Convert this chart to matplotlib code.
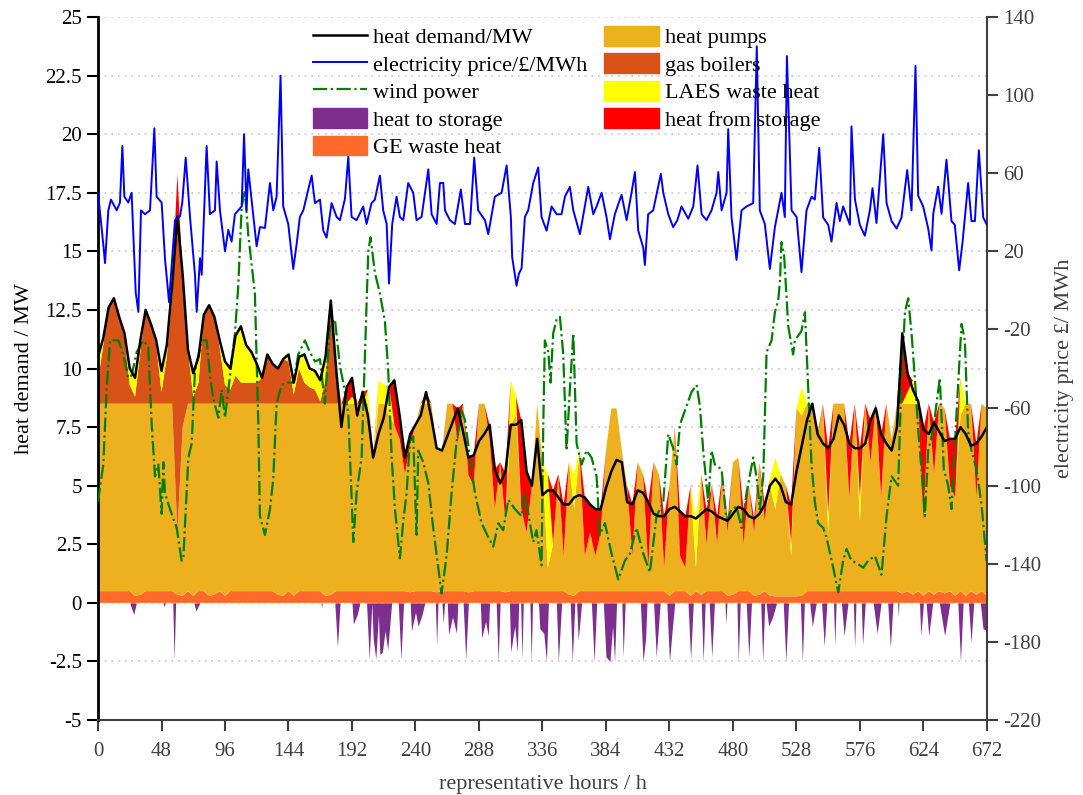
import matplotlib
matplotlib.use('Agg')
import matplotlib.pyplot as plt
from matplotlib.patches import Patch
from matplotlib.lines import Line2D
from matplotlib.ticker import FuncFormatter
import numpy as np

plt.rcParams['font.family'] = ['Liberation Serif', 'DejaVu Serif']
plt.rcParams['axes.unicode_minus'] = False

# representative hours on a 4-hour grid (used for the stacked heat supply)
hours = np.arange(0, 673, 4)

# heat demand / MW
demand = [10.5, 11.3, 12.6, 13.0, 12.2, 11.5, 10.0, 9.6, 11.2, 12.5, 11.9, 11.2, 9.9, 11.0,
          13.5, 16.5, 14.0, 10.8, 9.8, 10.5, 12.3, 12.7, 12.2, 11.2, 10.3, 10.0, 11.4, 11.8,
          11.0, 10.7, 10.2, 9.6, 10.6, 10.2, 10.0, 10.4, 10.6, 9.4, 10.5, 10.6, 10.0, 9.9,
          9.5, 10.5, 12.9, 10.0, 7.5, 9.2, 9.6, 8.0, 9.0, 8.0, 6.2, 7.2, 7.9, 9.2,
          9.5, 8.0, 6.2, 7.2, 7.6, 8.0, 9.0, 7.9, 6.6, 6.5, 7.1, 7.7, 8.3, 7.3,
          6.2, 6.3, 6.9, 7.2, 7.6, 5.7, 5.1, 5.6, 7.6, 7.6, 7.8, 5.6, 5.0, 7.0,
          4.6, 4.8, 4.8, 4.5, 4.2, 4.2, 4.5, 4.6, 4.5, 4.2, 4.0, 4.0, 4.9, 5.6, 6.1, 6.0,
          4.3, 4.2, 4.8, 4.7, 4.3, 3.8, 3.7, 3.7, 4.0, 4.1,
          3.9, 3.7, 3.7, 3.6, 3.8, 4.0, 3.9, 3.7, 3.6, 3.5, 3.8, 4.1, 4.0, 3.7,
          3.6, 3.8, 4.2, 5.0, 5.3, 5.0, 4.3, 4.2, 5.6, 6.7, 7.8, 8.5, 7.2, 6.8,
          6.6, 7.0, 8.0, 7.6, 6.8, 6.6, 6.6, 6.8, 7.8, 8.3, 7.2, 6.8, 6.5, 7.5, 11.5, 9.8,
          9.1, 8.6, 7.4, 7.2, 7.7, 7.3, 6.9, 7.0, 7.0, 7.5, 7.2, 6.7, 6.8, 7.1, 7.5]

# GE waste heat / MW
ge_heat = [0.5, 0.5, 0.5, 0.5, 0.5, 0.5, 0.5, 0.3, 0.35, 0.5, 0.5, 0.5, 0.5, 0.5,
           0.5, 0.35, 0.3, 0.5, 0.3, 0.5, 0.5, 0.3, 0.35, 0.5, 0.3, 0.5, 0.5, 0.5,
           0.5, 0.5, 0.5, 0.5, 0.5, 0.5, 0.35, 0.3, 0.5, 0.3, 0.5, 0.5, 0.5, 0.5,
           0.5, 0.3, 0.35, 0.5, 0.5, 0.5, 0.5, 0.5, 0.5, 0.5, 0.5, 0.5, 0.5, 0.5,
           0.5, 0.5, 0.5, 0.45, 0.5, 0.5, 0.5, 0.5, 0.45, 0.5, 0.5, 0.5, 0.5, 0.5,
           0.45, 0.5, 0.5, 0.5, 0.5, 0.5, 0.5, 0.45, 0.5, 0.5, 0.5, 0.5, 0.5, 0.5,
           0.5, 0.5, 0.5, 0.5, 0.5, 0.35, 0.3, 0.5, 0.5, 0.5, 0.5, 0.5, 0.5, 0.5, 0.5, 0.5,
           0.5, 0.5, 0.5, 0.5, 0.5, 0.5, 0.5, 0.5, 0.3, 0.5,
           0.5, 0.5, 0.3, 0.5, 0.35, 0.5, 0.5, 0.5, 0.5, 0.3, 0.35, 0.5, 0.5, 0.5,
           0.3, 0.35, 0.5, 0.3, 0.28, 0.28, 0.28, 0.28, 0.28, 0.3, 0.5, 0.5, 0.5, 0.5,
           0.5, 0.5, 0.5, 0.5, 0.5, 0.5, 0.5, 0.5, 0.5, 0.5, 0.5, 0.5, 0.5, 0.5, 0.4, 0.5,
           0.35, 0.5, 0.3, 0.5, 0.35, 0.5, 0.4, 0.5, 0.3, 0.5, 0.3, 0.5, 0.35, 0.5, 0.3]

# heat pumps / MW
heat_pumps = [8.0, 8.0, 8.0, 8.0, 8.0, 8.0, 8.0, 8.2, 8.15, 8.0, 8.0, 8.0, 8.0, 8.0,
              8.0, 2.65, 7.2, 8.0, 8.2, 8.0, 8.0, 8.2, 8.15, 8.0, 8.2, 8.0, 8.0, 8.0,
              8.0, 8.0, 8.0, 8.0, 8.0, 8.0, 8.15, 8.2, 8.0, 8.2, 8.0, 8.0, 8.0, 8.0,
              8.0, 8.2, 8.15, 8.0, 8.0, 8.0, 8.0, 8.0, 8.0, 8.0, 5.5, 8.0, 8.0, 7.5,
              7.1, 6.5, 5.0, 6.3, 7.1, 8.0, 8.0, 8.0, 6.1, 6.0, 8.0, 8.0, 6.3, 8.0,
              5.0, 4.5, 8.0, 8.0, 6.5, 3.5, 5.5, 3.0, 7.1, 7.5, 3.5, 2.5, 4.5, 8.0,
              5.5, 1.0, 2.0, 5.0, 1.5, 5.65, 3.7, 6.0, 1.5, 2.5, 1.5, 2.5, 6.0, 7.8, 7.8, 6.0,
              4.5, 1.5, 5.5, 5.0, 1.0, 5.5, 5.0, 1.0, 4.7, 7.0,
              1.5, 1.0, 4.7, 1.0, 5.15, 2.0, 4.5, 2.0, 5.0, 2.7, 5.65, 5.7, 2.0, 4.5,
              2.7, 5.65, 3.0, 4.7, 3.72, 5.22, 4.72, 1.72, 8.02, 7.7, 8.0, 8.0, 6.5, 8.0,
              2.5, 8.0, 8.0, 8.0, 4.0, 8.0, 3.0, 8.0, 5.5, 8.0, 4.0, 8.0, 6.5, 8.0, 8.1, 8.0,
              8.15, 8.0, 3.2, 8.0, 5.15, 8.0, 7.9, 4.5, 4.2, 7.5, 8.2, 8.0, 4.15, 8.0, 8.0]

# gas boilers / MW
gas_boilers = [1.0, 2.5, 4.1, 4.5, 3.7, 2.8, 0.8, 0.3, 2.2, 4.0, 3.4, 2.5, 0.5, 2.0,
               4.5, 13.5, 6.5, 2.3, 0.3, 0.9, 3.8, 4.2, 3.7, 2.4, 0.8, 0.6, 1.2, 0.9,
               0.9, 0.9, 0.9, 1.1, 2.1, 1.7, 1.5, 1.9, 1.8, 0.4, 1.5, 0.9, 0.7, 0.6,
               0.1, 1.0, 4.4, 1.5, 0, 0, 0, 0, 0, 0, 0, 0, 0, 0,
               0, 0, 0, 0, 0, 0, 0, 0, 0, 0, 0, 0, 0, 0,
               0, 0, 0, 0, 0, 0, 0, 0, 0, 0, 0, 0, 0, 0,
               0, 0, 0, 0, 0, 0, 0, 0, 0, 0, 0, 0, 0, 0, 0, 0,
               0, 0, 0, 0, 0, 0, 0, 0, 0, 0,
               0, 0, 0, 0, 0, 0, 0, 0, 0, 0, 0, 0, 0, 0,
               0, 0, 0, 0, 0, 0, 0, 0, 0, 0, 0, 0, 0, 0,
               0, 0, 0, 0, 0, 0, 0, 0, 0, 0, 0, 0, 0, 0, 0, 0,
               0, 0, 0, 0, 0, 0, 0, 0, 0, 0, 0, 0, 0, 0, 0]

# LAES waste heat / MW
laes_heat = [1.0, 0.3, 0, 0, 0, 0.2, 0.7, 0.8, 0.5, 0, 0, 0.2, 0.9, 0.5,
             0.5, 0, 0, 0, 1.0, 1.1, 0, 0, 0, 0.3, 1.0, 0.9, 1.7, 2.4,
             1.6, 1.3, 0.8, 0, 0, 0, 0, 0, 0.3, 0.5, 0.5, 1.2, 0.8, 0.8,
             0.9, 1.0, 0, 0, 0, 0, 0.3, 0, 0, 0.6, 0, 1.0, 0.8, 1.3,
             0, 0, 0, 0, 0, 0, 0.2, 0, 0, 0, 0, 0, 0, 0,
             0, 0, 0, 0, 0, 0, 0, 0, 1.9, 0.8, 0, 0, 0, 0,
             0, 4.0, 0, 0, 0, 0, 1.5, 0, 0, 0, 0, 0, 0, 0, 0, 0,
             0, 0, 0, 0, 0, 0, 0, 0, 0, 0,
             0, 0, 0, 2.1, 0, 0, 0, 0, 0, 0, 0, 0, 0, 0,
             0, 0, 0, 0.3, 2.2, 0, 0, 0.5, 0, 1.2, 0, 0, 0, 0,
             0.8, 0, 0, 0, 0, 0, 1.0, 0, 0, 0, 0, 0, 0, 0, 0, 0.5,
             1.0, 0, 0, 0, 0, 0, 0, 0, 0, 1.6, 0, 0, 0, 0, 0]

# heat from storage / MW
heat_from_storage = [0, 0, 0, 0, 0, 0, 0, 0, 0, 0, 0, 0, 0, 0,
                     0, 1.8, 0, 0, 0, 0, 0, 0, 0, 0, 0, 0, 0, 0,
                     0, 0, 0, 0, 0, 0, 0, 0, 0, 0, 0, 0, 0, 0,
                     0, 0, 0, 0, 0, 0.7, 0.8, 0, 0.5, 0, 0.2, 0, 0, 0,
                     1.9, 1.0, 0.7, 0.4, 0, 0, 0.3, 0, 0, 0, 0, 0, 1.5, 0,
                     0.7, 1.3, 0, 0, 0.6, 1.7, 0, 2.1, 0, 0, 3.8, 2.6, 0, 0,
                     0, 0, 2.3, 0, 2.2, 0, 0, 0, 2.5, 1.2, 2.0, 1.0, 0, 0, 0, 0,
                     0, 2.2, 0, 0, 2.8, 0, 0, 2.2, 0, 0,
                     1.9, 2.2, 0, 0, 0, 1.5, 0, 1.2, 0, 0.5, 0, 0, 1.5, 0,
                     0.6, 0, 0.7, 0, 0, 0, 0, 1.7, 0, 0, 0, 0, 0.2, 0,
                     2.8, 0, 0, 0, 2.3, 0, 2.1, 0, 1.8, 0, 2.7, 0, 0, 0, 3.0, 0.8,
                     0, 0.1, 3.9, 0, 2.2, 0, 0, 2.0, 2.5, 0, 0, 0, 2.3, 0, 0]

# heat to storage / MW (negative), own hour breakpoints
store_h = [0, 24, 27, 29, 49, 50, 51, 56.5, 57.5, 58.7, 72.5, 74, 77, 168.5, 169, 169.5,
           179, 181, 183, 192, 193, 196, 198, 203, 205, 207, 208, 210, 212, 213, 215, 217,
           219, 222, 227, 229, 231, 236, 237, 240, 242, 245, 247, 255, 256, 257, 260, 261,
           262, 264, 265, 268, 271, 272, 276, 278, 280, 289, 290, 293, 295, 296, 301, 302.5,
           304, 311, 312, 315, 317, 318, 319.5, 320.5, 321.5, 326.5, 327.5, 328.5, 333, 334,
           337, 339, 340.5, 346.5, 348, 350.5, 357, 358.5, 360.5, 361.8, 363, 365.6, 373, 375,
           377, 382, 384, 387, 389, 390.5, 392, 396, 397, 398.5, 410, 412, 414, 415, 420, 422,
           425, 430, 432, 434, 436, 446, 448, 450, 456, 457.5, 459, 462, 464, 466, 474, 474.5,
           475.5, 483, 484, 485.5, 490, 492, 494, 501, 502.5, 504, 505, 507, 510, 513, 518, 520,
           522, 531, 532.5, 534, 538, 540, 543, 547, 549, 551, 556, 557, 558, 562, 564, 567,
           571, 572, 573, 577, 578, 580, 586, 589, 592, 597, 599, 601, 604.5, 605, 605.5, 621,
           622, 624, 626, 628, 631, 636, 640, 644, 650, 652, 654, 658, 660, 662, 667, 669, 672]
store_v = [0, 0, -0.5, 0, 0, -0.15, 0, 0, -2.4, 0, 0, -0.35, 0, 0, -0.2, 0,
           0, -1.9, 0, 0, -0.9, -0.5, 0, 0, -2.4, 0, -1.5, -2.4, -0.5, -2.2, -2.1, -1.2,
           -2.0, 0, 0, -2.4, 0, 0, -1.2, -0.4, -1.0, -0.5, 0, 0, -1.8, 0, 0, -0.85,
           0, 0, -1.35, -0.6, -1.3, 0, 0, -2.4, 0, 0, -1.5, -0.8, -1.4, 0, 0, -2.5,
           0, 0, -2.1, -1.0, -2.1, 0, 0, -2.4, 0, 0, -2.5, 0, 0, -1.1,
           -1.3, -2.5, 0, 0, -2.5, 0, 0, -2.5, 0, 0, -1.6, 0, 0, -2.5,
           0, 0, -2.3, -2.5, -1.0, -2.5, 0, 0, -2.3, 0, 0, -2.5, -1.5, 0, 0, -2.3,
           0, 0, -2.5, -1.2, 0, 0, -2.4, 0, 0, -2.5, 0, 0, -2.3, 0, 0, -0.9,
           0, 0, -2.5, 0, 0, -2.3, 0, 0, -2.5, 0, 0, -1.0, -0.6, 0, 0, -2.5,
           0, 0, -2.5, 0, 0, -1.0, 0, 0, -1.85, 0, 0, -1.8, 0, 0, -1.4, 0,
           0, -1.9, 0, 0, -1.8, 0, 0, -1.3, 0, 0, -1.9, 0, 0, -0.6, 0, 0,
           -1.4, 0, 0, -1.4, 0, 0, -1.4, 0, 0, -2.5, 0, 0, -1.7, 0, 0, -1.1, -1.2]

# electricity price / GBP/MWh (right axis)
price_h = [0, 4.0, 5.3, 7.8, 9.8, 14.1, 16.6, 18.4, 19.9, 22.9, 25.4, 28.5, 30.5, 32.5,
           35.5, 39.3, 42.6, 44.3, 48.1, 50.6, 53.7, 58.2, 62, 63.7, 66.3, 69.5, 73.3, 74.6,
           77.1, 78.4, 82.1, 84.6, 88.4, 89.7, 92.2, 96, 98.5, 101, 103.5, 108.6, 110.4,
           112.3, 113.6, 116.1, 119.9, 122.4, 126.2, 130, 132.5, 135, 138, 140, 143.8,
           147.6, 150.1, 152.6, 155.2, 161.5, 164, 167.8, 170.3, 172.8, 176.6, 180.4, 182.9,
           186.7, 189.2, 191.7, 195.5, 200.5, 203, 206.8, 209.3, 213.1, 215.6, 218.2, 220,
           222.4, 225.7, 228.2, 230.8, 234.5, 238.3, 240.8, 244.6, 249.7, 252.2, 256, 258.5,
           261, 262.3, 266, 269.8, 274.3, 277.4, 281.2, 284.4, 287.4, 292.5, 295, 300, 305.1,
           308.9, 312.1, 313.1, 316.4, 318.2, 320.2, 322.7, 325.2, 329, 332.8, 335.3, 339.1,
           342.9, 346.7, 350.4, 353, 356.7, 359.3, 364.3, 370.6, 374.4, 376.9, 380.7, 384.4,
           387, 390.7, 395.8, 399.6, 403.3, 405.9, 408.4, 412.2, 413.4, 415.9, 419.7, 425.5,
           427.3, 431.1, 434.8, 438, 441.1, 446.2, 450, 453.2, 456.3, 460, 463.8, 467.6,
           468.9, 471.4, 475.2, 476.4, 478.9, 482.7, 486.5, 490.3, 495.3, 498, 500.3, 504.1,
           507.9, 511.7, 516.7, 519.2, 520.8, 524.3, 528.1, 531.8, 535.6, 539.4, 541.9, 545.2,
           548.2, 552, 554.5, 558.3, 560.8, 563.3, 568.4, 569.6, 572.2, 575.9, 579.7, 583.5,
           585.5, 588.5, 593.6, 596.1, 599.9, 603.7, 607.4, 611.7, 615, 618, 620, 623.8,
           627.6, 630.1, 631.4, 635.1, 637.7, 641.4, 645.2, 647.7, 651, 653.5, 657.8, 660.3,
           662.9, 665.9, 669.2, 672]
price_v = [50, 23.5, 14, 41, 46.5, 41, 45, 74, 48, 45, 50, -1, -11, 41,
           39, 41, 83, 48, 45, 16.5, -6, 36, 38, 45, 68, 38, 8, -11,
           16.5, 8, 74, 39, 41, 66, 41, 20, 31, 25, 39, 43, 80,
           41, 62, 46.5, 22.6, 32.4, 32, 55, 41, 48, 110, 43, 34,
           11, 23.5, 37.6, 41, 58.8, 44.7, 46.5, 30.6, 27, 44.7, 37.6, 36,
           47, 68.5, 37.6, 36, 43, 34, 44.7, 46.5, 58.8, 41, 34, 3.5,
           34, 48, 37.6, 36, 55, 50, 36, 37.6, 62, 39, 34, 55,
           55, 41, 36, 34, 51.7, 34, 34, 68, 41, 36, 28.8, 48, 50,
           64, 37.6, 17, 2.4, 8.6, 11.3, 37.6, 41, 55, 63, 37.6, 30.6,
           43, 39, 39, 48, 53, 41, 28.8, 53, 39, 43, 50, 37.6,
           26.2, 39, 49, 36, 50, 60.6, 30.6, 21.8, 13, 39, 41, 59.7,
           50, 39, 32.4, 36, 43, 36.7, 43, 64, 39, 36, 41, 50,
           60.6, 41, 50, 82.6, 37.6, 15.6, 41, 43, 44.7, 125, 41, 34,
           11, 32.4, 50, 37.6, 120, 41, 37.6, 9.4, 41, 48, 46.5, 73,
           37.3, 33.6, 25, 44.8, 35.5, 43, 33.6, 84, 46.6, 33.6, 28, 41,
           52.3, 34.5, 80, 44.8, 35.5, 31.7, 37.3, 61.6, 41, 115, 48.5, 43,
           31.7, 20.5, 39.2, 53.2, 39.2, 67, 35.5, 33.6, 10.3, 24.3, 55, 35.5,
           35.5, 71.8, 37.3, 33.6]

# wind power (left axis scale)
wind_h = [0, 4, 6.5, 9.1, 15.4, 19.1, 22.9, 25.4, 29.2, 34.3, 38, 40.6, 43.1, 45.6, 48.1,
          49.4, 50.6, 54.4, 59.5, 63.2, 64.5, 68.3, 70.8, 73.3, 78.4, 82.1, 84.6, 87.2, 91,
          93.5, 96, 99.8, 103.5, 106, 108.6, 111, 113.6, 118.6, 121.2, 122.4, 126.2, 130,
          132.5, 135, 138.8, 143.8, 147.6, 151.4, 156.4, 160.2, 164, 167.8, 171.5, 175.3,
          179.1, 182.9, 185.4, 189.2, 193, 195.5, 199.3, 201.8, 204.3, 206, 209.3, 213.1,
          216.9, 219.4, 222, 224.5, 228.2, 230.8, 233.3, 235.8, 238.3, 240.8, 242.1, 245.9,
          249.7, 253.4, 257.2, 259.7, 263.5, 267.3, 271.1, 274.9, 277.4, 281.2, 284.9, 290,
          295, 298.8, 302.6, 306.3, 310.1, 315.2, 320.2, 322.7, 326.5, 329, 331.5, 335.3,
          336.6, 337.8, 340.4, 342.1, 344.1, 346.7, 349.2, 351.7, 354.2, 356.7, 359.3, 361.8,
          365.6, 369.3, 373.1, 376.9, 379.4, 383.2, 388.2, 393.3, 398.3, 402.1, 407.1, 412.2,
          417.2, 422.2, 427.3, 431.1, 434.8, 437.4, 439.9, 443.7, 448.7, 452.5, 455, 457.5,
          461.3, 463.8, 466.3, 471.4, 475.2, 478.9, 482.7, 486.5, 490.3, 495.3, 497.8, 500.3,
          502.9, 505.4, 509.2, 511.7, 514.2, 515.5, 516.7, 518.7, 521.8, 525.5, 526.8, 531.8,
          534.4, 536.9, 539.4, 541.9, 544.4, 548.2, 550.7, 555.8, 559.6, 563.3, 565.9, 569.6,
          573.4, 578.5, 582.2, 587.3, 592.3, 596.1, 599.9, 604.9, 607.4, 610, 612.5, 615,
          617.5, 620, 622.5, 625.1, 627.6, 631.4, 636.4, 639.4, 642.7, 645.2, 649, 652.8,
          655.3, 657.8, 660.3, 664.1, 667.9, 671.7]
wind_v = [4.3, 5.9, 9.1, 11.2, 11.2, 10.6, 9.6, 9.7, 10.7, 11.2, 10.9, 7.6, 5.4, 5.9, 3.8,
          6.0, 4.7, 4.0, 3.2, 1.8, 1.9, 6.2, 6.8, 9.9, 11.2, 11.2, 9.7, 8.7, 7.9,
          9.1, 7.9, 9.7, 11.5, 13.5, 16.9, 17.6, 15.7, 13.2, 7.6, 3.7, 2.9, 4.0,
          5.3, 8.5, 9.3, 9.4, 9.4, 10.6, 11.2, 10.7, 10.3, 10.4, 8.5, 11.8,
          12.1, 10.1, 9.4, 8.1, 2.6, 4.7, 6.2, 10.6, 15.0, 15.6, 14.1, 13.2,
          12.0, 9.9, 6.2, 4.0, 1.9, 3.5, 4.7, 6.9, 7.1, 2.9, 6.5, 6.0,
          5.1, 3.2, 1.5, 0.4, 2.0, 4.7, 6.9, 8.2, 7.8, 6.2, 4.7, 3.4,
          2.8, 2.4, 3.4, 3.1, 4.4, 4.0, 3.7, 4.7, 3.4, 2.6, 3.1, 1.6,
          7.6, 11.2, 10.7, 9.4, 11.5, 12.1, 12.2, 10.6, 6.5, 9.1, 11.5, 6.8,
          5.9, 6.5, 6.2, 5.4, 2.9, 3.4, 2.1, 1.0, 1.8, 2.1, 3.2, 2.1,
          1.3, 3.7, 4.3, 7.2, 6.6, 5.9, 7.6, 8.2, 9.0, 9.3, 8.4, 6.5,
          4.3, 6.5, 5.9, 5.7, 3.5, 4.0, 4.1, 3.2, 4.7, 6.2, 5.4, 4.0,
          5.4, 10.7, 11.2, 12.4, 12.9, 13.7, 15.4, 14.8, 11.8, 10.6, 11.2, 11.6,
          12.4, 9.1, 5.9, 4.3, 3.4, 3.2, 2.8, 1.5, 0.45, 1.8, 2.3, 1.8,
          1.7, 1.5, 1.8, 2.0, 1.2, 3.7, 5.4, 5.0, 9.6, 12.4, 13.0, 11.5,
          9.6, 7.4, 5.7, 3.7, 6.5, 7.4, 9.6, 5.7, 5.0, 4.0, 8.1, 11.9,
          11.2, 7.3, 6.5, 5.7, 4.2, 1.8]

left_ticks = [25, 22.5, 20, 17.5, 15, 12.5, 10, 7.5, 5, 2.5, 0, -2.5, -5]
right_ticks = [140, 100, 60, 20, -20, -60, -100, -140, -180, -220]
x_ticks = [0, 48, 96, 144, 192, 240, 288, 336, 384, 432, 480, 528, 576, 624, 672]

c_hp = '#EDB120'
c_gb = '#D95319'
c_laes = '#FFFF00'
c_sout = '#FF0000'
c_sin = '#7E2F8E'
c_ge = '#FF6A2A'
grey = '#404040'

fig = plt.figure(figsize=(10.83, 7.95), dpi=100)
ax = fig.add_axes([0.0905, 0.0943, 0.8208, 0.8843])

# stacked heat supply
ax.stackplot(hours, ge_heat, heat_pumps, gas_boilers, laes_heat, heat_from_storage,
             colors=[c_ge, c_hp, c_gb, c_laes, c_sout], linewidth=0, zorder=2)
ax.fill_between(store_h, store_v, 0, color=c_sin, linewidth=0, zorder=2)

ax.plot(hours, demand, color='black', lw=1.8, zorder=4)
ax.plot(wind_h, wind_v, color='#008000', ls='-.', lw=1.6, zorder=3)

ax.set_xlim(0, 672)
ax.set_ylim(-5, 25)
ax.set_xticks(x_ticks)
ax.set_yticks(left_ticks)
ax.yaxis.set_major_formatter(FuncFormatter(lambda v, p: '%g' % v))
ax.yaxis.grid(True, ls=(0, (1, 3)), color='#c8c8c8', lw=1.2)
ax.set_axisbelow(True)
ax.tick_params(axis='y', direction='out', length=8, width=1.5, labelsize=15, colors='black')
ax.tick_params(axis='x', direction='out', length=8, width=1.5, labelsize=15,
               colors=grey, pad=8)
ax.spines['top'].set_visible(False)
ax.spines['right'].set_visible(False)
ax.spines['left'].set_linewidth(2)
ax.spines['bottom'].set_linewidth(1.5)
ax.spines['bottom'].set_color(grey)
ax.set_xlabel('representative hours / h', fontsize=16, color=grey, labelpad=10)
ax.set_ylabel('heat demand / MW', fontsize=16, color='black', labelpad=8)

# electricity price on the right axis
ax2 = ax.twinx()
ax2.plot(price_h, price_v, color='#0000FF', lw=1.4, zorder=5)
ax2.set_ylim(-220, 140)
ax2.set_yticks(right_ticks)
ax2.yaxis.set_major_formatter(FuncFormatter(lambda v, p: '%g' % v))
ax2.tick_params(axis='y', direction='out', length=8, width=1.5, labelsize=15, colors=grey)
ax2.spines['top'].set_visible(False)
ax2.spines['left'].set_visible(False)
ax2.spines['bottom'].set_visible(False)
ax2.spines['right'].set_color(grey)
ax2.spines['right'].set_linewidth(1.5)
ax2.set_ylabel('electricity price \u00a3/ MWh', fontsize=16, color=grey, labelpad=10)

handles = [Line2D([], [], color='black', lw=1.8),
           Line2D([], [], color='#0000FF', lw=1.4),
           Line2D([], [], color='#008000', ls='-.', lw=1.6),
           Patch(color=c_sin), Patch(color=c_ge),
           Patch(color=c_hp), Patch(color=c_gb), Patch(color=c_laes), Patch(color=c_sout)]
labels = ['heat demand/MW', 'electricity price/\u00a3/MWh', 'wind power', 'heat to storage',
          'GE waste heat', 'heat pumps', 'gas boilers', 'LAES waste heat', 'heat from storage']
leg = ax2.legend(handles, labels, ncol=2, loc='upper left', bbox_to_anchor=(0.219, 1.016),
                 frameon=False, fontsize=16, handlelength=2.45, handleheight=1.0,
                 labelspacing=0.22, columnspacing=0.75, handletextpad=0.28)
leg.set_zorder(10)

fig.savefig('out.png', dpi=100)
